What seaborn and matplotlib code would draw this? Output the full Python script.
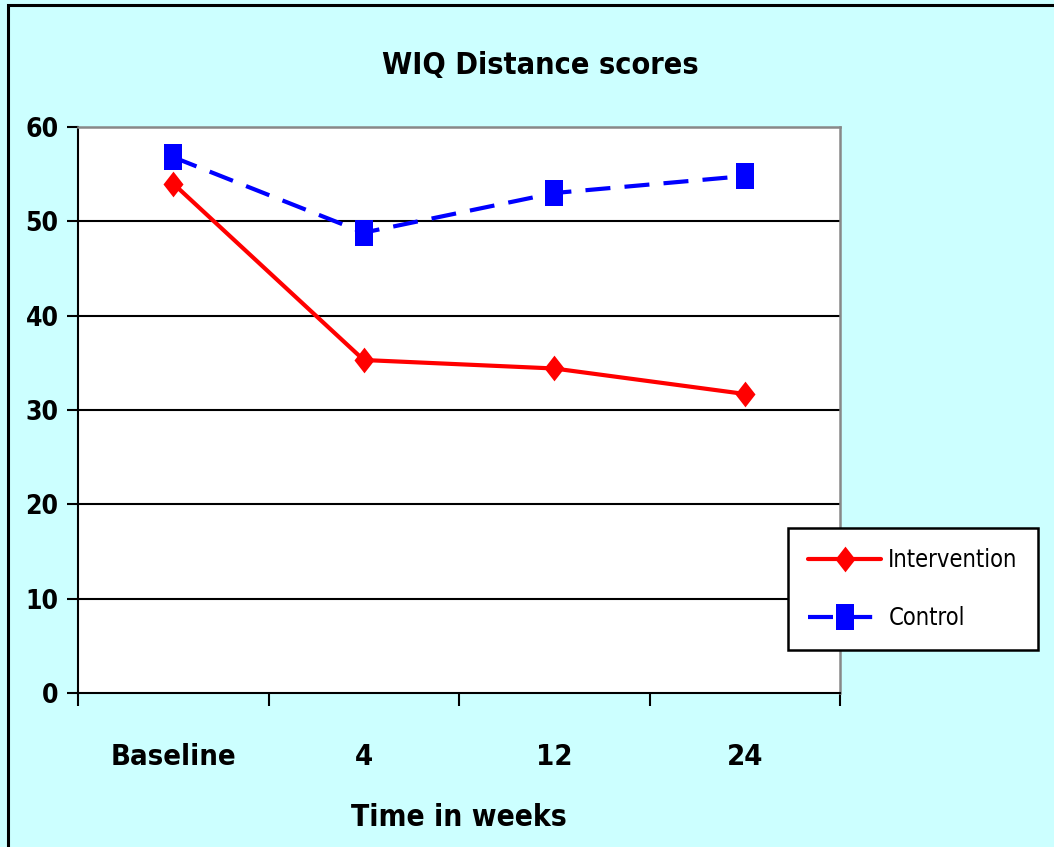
import matplotlib
matplotlib.use("Agg")
import matplotlib.pyplot as plt
import seaborn as sns
import pandas as pd
from matplotlib.patches import Rectangle
from matplotlib.path import Path
from matplotlib import font_manager

categories = ["Baseline", "4", "12", "24"]
intervention = [54.0, 35.3, 34.4, 31.7]
control = [56.8, 48.8, 53.0, 54.8]
yticks = [0, 10, 20, 30, 40, 50, 60]

sns.set_theme(style="white")
fl = font_manager.fontManager.ttflist
names = {f.name for f in fl}
condensed = any(f.name == "DejaVu Sans" and "Condensed" in f.fname for f in fl)
if "Liberation Sans Narrow" in names:
    fam, stretch, k = "Liberation Sans Narrow", "normal", 1.15
elif condensed:
    fam, stretch, k = "DejaVu Sans", "condensed", 1.0
else:
    fam, stretch, k = "Liberation Sans", "normal", 0.95
plt.rcParams["font.family"] = [fam, "DejaVu Sans"]
plt.rcParams["font.stretch"] = stretch
plt.rcParams["text.color"] = "black"
plt.rcParams["axes.labelcolor"] = "black"
plt.rcParams["xtick.color"] = "black"
plt.rcParams["ytick.color"] = "black"

# taller-than-wide markers (reference is horizontally compressed)
diamond = Path([(0, 1), (0.78, 0), (0, -1), (-0.78, 0), (0, 1)],
               [Path.MOVETO, Path.LINETO, Path.LINETO, Path.LINETO, Path.CLOSEPOLY])
rect = Path([(-0.36, -0.5), (0.36, -0.5), (0.36, 0.5), (-0.36, 0.5), (-0.36, -0.5)],
            [Path.MOVETO, Path.LINETO, Path.LINETO, Path.LINETO, Path.CLOSEPOLY])

df = pd.DataFrame({
    "time": categories * 2,
    "score": intervention + control,
    "group": ["Intervention"] * 4 + ["Control"] * 4,
})

fig = plt.figure(figsize=(10.54, 8.47), dpi=100)
fig.patch.set_facecolor("#CCFFFF")
ax = fig.add_axes([78/1054, 1-693/847, (840-78)/1054, (693-127)/847])
ax.set_facecolor("white")

sns.lineplot(data=df, x="time", y="score", hue="group", style="group",
             palette={"Intervention": "#FF0000", "Control": "#0000FF"},
             markers={"Intervention": diamond, "Control": rect},
             dashes={"Intervention": "", "Control": (6.0, 3.4)},
             markersize=18.5, linewidth=3.0, markeredgewidth=0, ax=ax, sort=False)

ax.set_xlim(-0.5, 3.5)
ax.set_ylim(0, 60)
ax.set_yticks(yticks)
ax.set_yticklabels([str(v) for v in yticks], fontsize=19 * k, fontweight="bold")
ax.set_xticks(range(4))
ax.set_xticklabels(categories, fontsize=21 * k, fontweight="bold")
ax.set_xticks([-0.5, 0.5, 1.5, 2.5, 3.5], minor=True)
ax.tick_params(axis="x", which="major", bottom=False, length=0, pad=36)
ax.tick_params(axis="x", which="minor", bottom=True, length=9, width=1.5, color="black", direction="out")
ax.tick_params(axis="y", which="major", left=True, length=8, width=1.5, color="black", direction="out", pad=6)
for v in yticks[1:-1]:
    ax.axhline(v, color="black", lw=1.5, zorder=0.5)
ax.set_ylabel("")
ax.set_xlabel("Time in weeks", fontsize=21.5 * k, fontweight="bold", labelpad=23, color="black")
ax.set_title("WIQ Distance scores", fontsize=22 * k, fontweight="bold", pad=38, x=0.607)

for s in ["left", "bottom"]:
    ax.spines[s].set_color("black")
    ax.spines[s].set_linewidth(1.5)
for s in ["top", "right"]:
    ax.spines[s].set_color("#888888")
    ax.spines[s].set_linewidth(1.8)

leg = ax.legend(title=None, loc="upper left",
                bbox_to_anchor=(788/1054, 1-528/847), bbox_transform=fig.transFigure,
                fontsize=17 * k, frameon=True,
                fancybox=False, edgecolor="black",
                handlelength=3.1, borderpad=0.85, labelspacing=1.45, handletextpad=0.3,
                borderaxespad=0)
leg.get_frame().set_linewidth(1.8)
leg.get_frame().set_facecolor("white")
leg.get_frame().set_alpha(1)

fig.patches.append(Rectangle((8/1054, -0.1), 1.2, 1.1 - 5/847, transform=fig.transFigure,
                             fill=False, edgecolor="black", lw=2.2, zorder=10))

fig.savefig("out.png", dpi=100, facecolor=fig.get_facecolor())
